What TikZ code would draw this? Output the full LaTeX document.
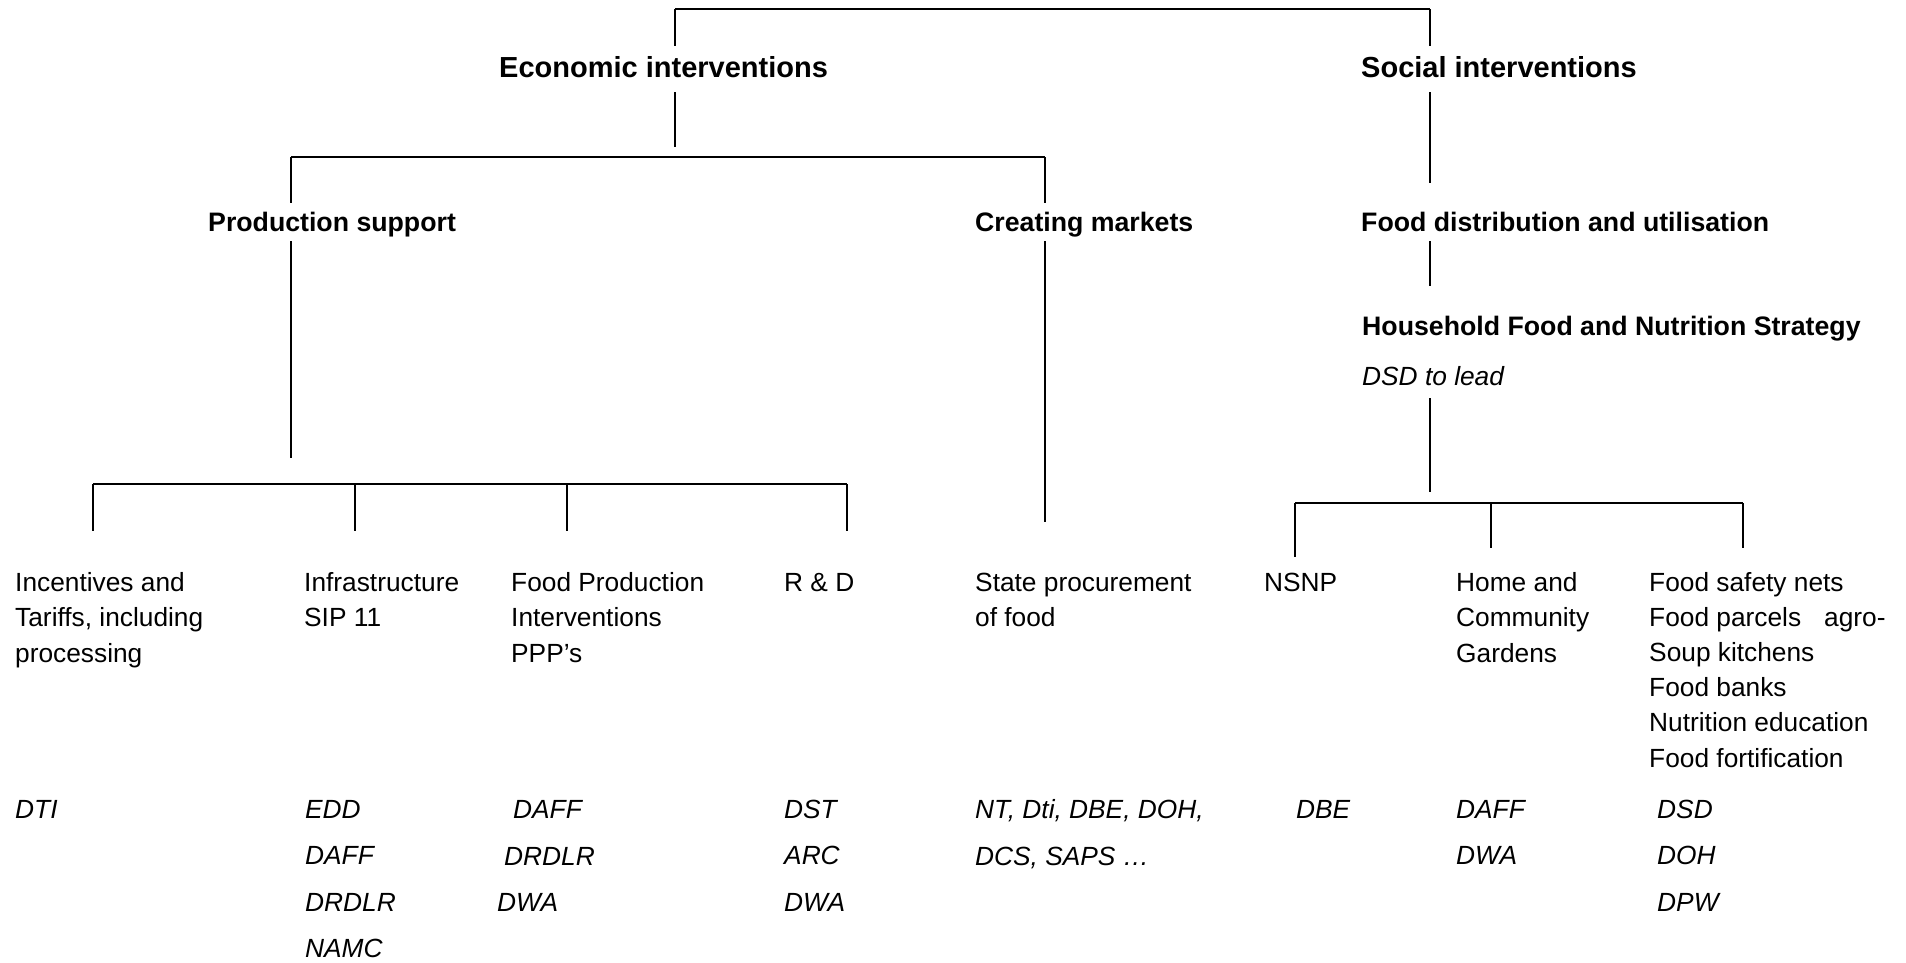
\documentclass[tikz,border=0pt]{standalone}
\usepackage{fontspec}
\setmainfont{Liberation Sans}
\tikzset{
  txt/.style={anchor=base west, inner sep=0pt, font=\fontsize{26.3pt}{35.5pt}\selectfont},
  ag/.style={anchor=base west, inner sep=0pt, font=\fontsize{26.3pt}{35.5pt}\selectfont\itshape},
  headB/.style={anchor=base west, inner sep=0pt, font=\fontsize{26.7pt}{32pt}\selectfont\bfseries},
  headA/.style={anchor=base west, inner sep=0pt, font=\fontsize{29pt}{35pt}\selectfont\bfseries},
  vline/.style={line width=1.6pt},
  hline/.style={line width=2.4pt},
}
\begin{document}
\begin{tikzpicture}[x=1pt,y=-1pt]
\fill[white] (0,0) rectangle (1906,962);
\useasboundingbox (0,0) rectangle (1906,962);

% ---- coordinates for connectors
\coordinate (t1) at (675,9);   \coordinate (t2) at (1430,9);
\coordinate (e1) at (675,46);  \coordinate (e2) at (675,92);  \coordinate (e3) at (675,147);
\coordinate (m1) at (291,157); \coordinate (m2) at (1045,157);
\coordinate (p1) at (291,203); \coordinate (p2) at (291,241); \coordinate (p3) at (291,458);
\coordinate (c1) at (1045,203);\coordinate (c2) at (1045,241);\coordinate (c3) at (1045,522);
\coordinate (s1) at (1430,46); \coordinate (s2) at (1430,92); \coordinate (s3) at (1430,183);
\coordinate (f1) at (1430,241);\coordinate (f2) at (1430,286);
\coordinate (d1) at (1430,398);\coordinate (d2) at (1430,492);
\coordinate (l1) at (93,484);  \coordinate (l2) at (355,484); \coordinate (l3) at (567,484); \coordinate (l4) at (847,484);
\coordinate (l1b) at (93,531); \coordinate (l2b) at (355,531);\coordinate (l3b) at (567,531);\coordinate (l4b) at (847,531);
\coordinate (r1) at (1295,503);\coordinate (r2) at (1491,503);\coordinate (r3) at (1743,503);
\coordinate (r1b) at (1295,557);\coordinate (r2b) at (1491,548);\coordinate (r3b) at (1743,548);

% ---- connectors
\draw[hline] (t1) -- (t2);
\draw[vline] (t1) -- (e1);
\draw[vline] (t2) -- (s1);
\draw[vline] (e2) -- (e3);
\draw[hline] (m1) -- (m2);
\draw[vline] (m1) -- (p1);
\draw[vline] (m2) -- (c1);
\draw[vline] (p2) -- (p3);
\draw[vline] (c2) -- (c3);
\draw[vline] (s2) -- (s3);
\draw[vline] (f1) -- (f2);
\draw[vline] (d1) -- (d2);
\draw[hline] (l1) -- (l4);
\draw[vline] (l1) -- (l1b);
\draw[vline] (l2) -- (l2b);
\draw[vline] (l3) -- (l3b);
\draw[vline] (l4) -- (l4b);
\draw[hline] (r1) -- (r3);
\draw[vline] (r1) -- (r1b);
\draw[vline] (r2) -- (r2b);
\draw[vline] (r3) -- (r3b);

% ---- headings
\node[headA] (econ) at (499,77) {Economic interventions};
\node[headA] (soc) at (1361,77) {Social interventions};
\node[headB] (prod) at (208,231) {Production support};
\node[headB] (mkt) at (975,231) {Creating markets};
\node[headB] (dist) at (1361,231) {Food distribution and utilisation};
\node[headB] (hfns) at (1362,335) {Household Food and Nutrition Strategy};
\node[ag] (lead) at (1362,385) {DSD to lead};

% ---- activity texts (one node per line)
\foreach \t [count=\i] in {{Incentives and},{Tariffs, including},{processing}}
  \node[txt] (inc\i) at (15,{591+(\i-1)*35.5}) {\t};
\foreach \t [count=\i] in {{Infrastructure},{SIP 11}}
  \node[txt] (inf\i) at (304,{591+(\i-1)*35.5}) {\t};
\foreach \t [count=\i] in {{Food Production},{Interventions},{PPP’s}}
  \node[txt] (fpi\i) at (511,{591+(\i-1)*35.5}) {\t};
\node[txt] (rd1) at (784,591) {R \& D};
\foreach \t [count=\i] in {{State procurement},{of food}}
  \node[txt] (spf\i) at (975,{591+(\i-1)*35.5}) {\t};
\node[txt] (nsnp1) at (1264,591) {NSNP};
\foreach \t [count=\i] in {{Home and},{Community},{Gardens}}
  \node[txt] (hcg\i) at (1456,{591+(\i-1)*35.5}) {\t};
\foreach \t [count=\i] in {{Food safety nets},{Food parcels\hspace{23pt}agro-},{Soup kitchens},{Food banks},{Nutrition education},{Food fortification}}
  \node[txt] (fsn\i) at (1649,{591+(\i-1)*35.2}) {\t};

% ---- responsible departments
\node[ag] (dti1) at (15,818) {DTI};
\foreach \t [count=\i] in {EDD,DAFF,DRDLR,NAMC}
  \node[ag] (infd\i) at (305,{818+(\i-1)*46.5}) {\t};
\node[ag] (fpd1) at (513,818) {DAFF};
\node[ag] (fpd2) at (504,865) {DRDLR};
\node[ag] (fpd3) at (497,911) {DWA};
\foreach \t [count=\i] in {DST,ARC,DWA}
  \node[ag] (rdd\i) at (784,{818+(\i-1)*46.5}) {\t};
\node[ag] (spd1) at (975,818) {NT, Dti, DBE, DOH,};
\node[ag] (spd2) at (975,865) {DCS, SAPS …};
\node[ag] (nsd1) at (1296,818) {DBE};
\foreach \t [count=\i] in {DAFF,DWA}
  \node[ag] (hcd\i) at (1456,{818+(\i-1)*46.5}) {\t};
\foreach \t [count=\i] in {DSD,DOH,DPW}
  \node[ag] (fsd\i) at (1657,{818+(\i-1)*46.5}) {\t};
\end{tikzpicture}
\end{document}
